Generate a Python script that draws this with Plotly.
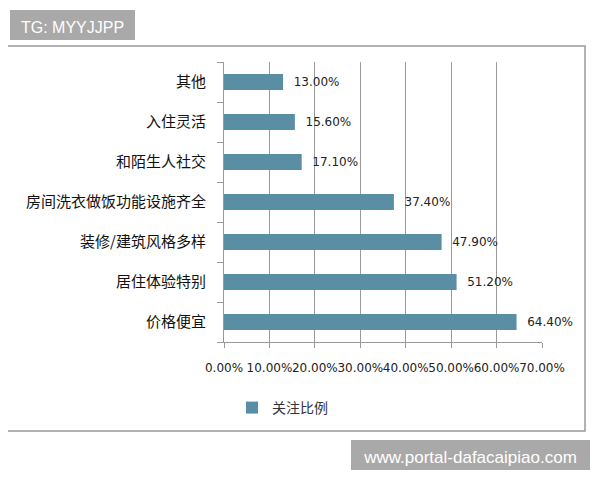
import plotly.graph_objects as go

categories = ["价格便宜", "居住体验特别", "装修/建筑风格多样", "房间洗衣做饭功能设施齐全",
              "和陌生人社交", "入住灵活", "其他"]
values = [0.644, 0.512, 0.479, 0.374, 0.171, 0.156, 0.130]
series_name = "关注比例"
tick_vals = [0, 0.1, 0.2, 0.3, 0.4, 0.5, 0.6, 0.7]
tick_text = ["0.00%", "10.00%", "20.00%", "30.00%", "40.00%", "50.00%", "60.00%", "70.00%"]

# page body has an 8px margin, so work in reference pixels minus 8
O = 8
W, H = 600 - O, 480 - O
L, R, T, B = 224 - O, 542 - O, 62 - O, 342 - O

fig = go.Figure()
fig.add_trace(go.Bar(
    y=categories, x=values, orientation="h", name=series_name,
    marker=dict(color="#5a8ea4", line=dict(width=0)),
    width=0.4,
    text=["  " + f"{v*100:.2f}%" for v in values],
    textposition="outside", cliponaxis=False,
    textfont=dict(family="DejaVu Sans", size=12, color="#222222"),
    showlegend=True,
))

def xp(px):
    return (px - O - L) / (R - L)
def yp(py):
    return (B - (py - O)) / (B - T)

fig.update_layout(
    width=W, height=H,
    margin=dict(l=L, r=W - R, t=T, b=H - B, autoexpand=False),
    paper_bgcolor="white", plot_bgcolor="white",
    font=dict(family="Noto Sans CJK SC", color="#222222"),
    xaxis=dict(
        range=[0, 0.7], tickvals=tick_vals, ticktext=tick_text, tickangle=0,
        showgrid=True, gridcolor="#9a9a9a", gridwidth=1,
        showline=True, linecolor="#9a9a9a", linewidth=1,
        ticks="outside", ticklen=5, tickcolor="#9a9a9a",
        tickfont=dict(family="DejaVu Sans", size=12, color="#222222"),
        zeroline=False, fixedrange=True, ticklabelstandoff=10,
    ),
    yaxis=dict(
        type="category", categoryorder="array", categoryarray=categories,
        showline=True, linecolor="#9a9a9a", linewidth=1,
        ticks="outside", ticklen=6, tickcolor="#9a9a9a", tickson="boundaries",
        tickfont=dict(family="Noto Sans CJK SC", size=15, color="#111111"),
        showgrid=False, fixedrange=True, ticklabelstandoff=14,
    ),
    legend=dict(
        orientation="h", x=xp(232), y=yp(408), xref="paper", yref="paper",
        xanchor="left", yanchor="middle", bgcolor="rgba(0,0,0,0)",
        font=dict(family="Noto Sans CJK SC", size=14, color="#333333"),
        itemwidth=30,
    ),
    showlegend=True,
)

# chart border
fig.add_shape(type="rect", xref="paper", yref="paper",
              x0=xp(4), x1=xp(585), y0=yp(431), y1=yp(46),
              line=dict(color="#999999", width=1.5), fillcolor="rgba(0,0,0,0)", layer="below")

# top-left tag
fig.add_shape(type="rect", xref="paper", yref="paper",
              x0=xp(10), x1=xp(135), y0=yp(40), y1=yp(10),
              line=dict(width=0), fillcolor="#a9a9a9",
              label=dict(text="TG: MYYJJPP", textposition="middle center",
                         font=dict(family="Liberation Sans", size=16, color="white")))

# bottom-right watermark
fig.add_shape(type="rect", xref="paper", yref="paper",
              x0=xp(351), x1=xp(590), y0=yp(470), y1=yp(440),
              line=dict(width=0), fillcolor="#a9a9a9",
              label=dict(text="www.portal-dafacaipiao.com", textposition="middle center",
                         font=dict(family="Liberation Sans", size=17, color="white")))

fig.write_html("out.html")
